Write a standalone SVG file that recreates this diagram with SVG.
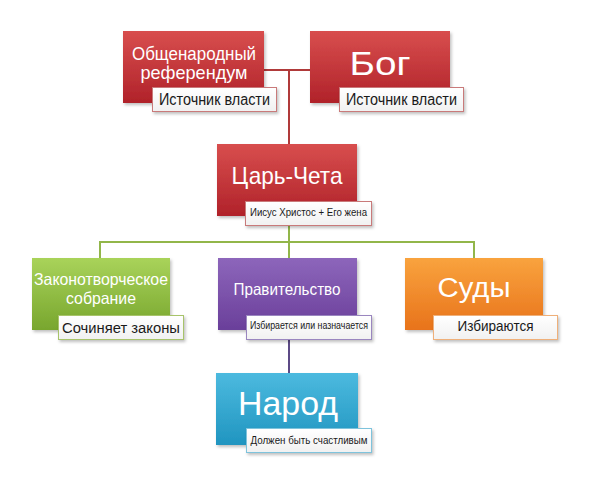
<svg xmlns="http://www.w3.org/2000/svg" width="591" height="489" viewBox="0 0 591 489">
<defs>
<linearGradient id="gRed" x1="0" y1="0" x2="0" y2="1"><stop offset="0" stop-color="#d84e4e"/><stop offset="1" stop-color="#b0222a"/></linearGradient>
<linearGradient id="gGreen" x1="0" y1="0" x2="0" y2="1"><stop offset="0" stop-color="#a9d35a"/><stop offset="1" stop-color="#78a62e"/></linearGradient>
<linearGradient id="gPurple" x1="0" y1="0" x2="0" y2="1"><stop offset="0" stop-color="#8d66bb"/><stop offset="1" stop-color="#6a3f9a"/></linearGradient>
<linearGradient id="gOrange" x1="0" y1="0" x2="0" y2="1"><stop offset="0" stop-color="#f9a33e"/><stop offset="1" stop-color="#e8731b"/></linearGradient>
<linearGradient id="gBlue" x1="0" y1="0" x2="0" y2="1"><stop offset="0" stop-color="#4cbadf"/><stop offset="1" stop-color="#2095c0"/></linearGradient>
<linearGradient id="gLabel" x1="0" y1="0" x2="0" y2="1"><stop offset="0" stop-color="#ffffff"/><stop offset="1" stop-color="#f1f1f1"/></linearGradient>
<filter id="sh" x="-10%" y="-10%" width="125%" height="130%"><feDropShadow dx="1.5" dy="2" stdDeviation="1.5" flood-color="#000" flood-opacity="0.25"/></filter>
</defs>
<style>
.box{filter:url(#sh)}
.lbl{fill:url(#gLabel);stroke-width:1;filter:url(#sh)}
.t{font-family:"Liberation Sans",Arial,sans-serif;fill:#ffffff;text-anchor:middle}
.lt{font-family:"Liberation Sans",Arial,sans-serif;fill:#1a1a1a;text-anchor:middle}
.con{fill:none;stroke-width:2}
</style>
<rect width="591" height="489" fill="#ffffff"/>
<g id="connectors">
<path class="con" stroke="#b03a3a" d="M264 70 H310 M289 70 V144"/>
<path class="con" stroke="#92b64a" d="M289 225 V258 M100 242 H474 M100 241 V258 M474 241 V258"/>
<path class="con" stroke="#5c4a86" d="M289 339 V373"/>
</g>
<g id="referendum">
<rect class="box" x="123" y="31" width="141" height="72" fill="url(#gRed)"/>
<text class="t" x="194" y="60" font-size="18.5" textLength="124" lengthAdjust="spacingAndGlyphs">Общенародный</text>
<text class="t" x="194" y="79" font-size="18.5" textLength="107" lengthAdjust="spacingAndGlyphs">референдум</text>
<rect class="lbl" x="152.5" y="87.5" width="124" height="24" stroke="#c97a7a"/>
<text class="lt" x="214.5" y="105" font-size="16" textLength="111" lengthAdjust="spacingAndGlyphs">Источник власти</text>
</g>
<g id="bog">
<rect class="box" x="310" y="31" width="140" height="72" fill="url(#gRed)"/>
<text class="t" x="380" y="75" font-size="33" textLength="61" lengthAdjust="spacingAndGlyphs">Бог</text>
<rect class="lbl" x="339.5" y="87.5" width="124" height="24" stroke="#c97a7a"/>
<text class="lt" x="401.5" y="105" font-size="16" textLength="111" lengthAdjust="spacingAndGlyphs">Источник власти</text>
</g>
<g id="tsar">
<rect class="box" x="217" y="144" width="140" height="72" fill="url(#gRed)"/>
<text class="t" x="287" y="184" font-size="24" textLength="111" lengthAdjust="spacingAndGlyphs">Царь-Чета</text>
<rect class="lbl" x="245.5" y="201.5" width="126" height="24" stroke="#c97a7a"/>
<text class="lt" x="308.5" y="216" font-size="10.5" textLength="117" lengthAdjust="spacingAndGlyphs">Иисус Христос + Его жена</text>
</g>
<g id="legislature">
<rect class="box" x="32" y="258" width="138" height="72" fill="url(#gGreen)"/>
<text class="t" x="101" y="285" font-size="16.5" textLength="134" lengthAdjust="spacingAndGlyphs">Законотворческое</text>
<text class="t" x="101" y="304" font-size="16.5" textLength="70" lengthAdjust="spacingAndGlyphs">собрание</text>
<rect class="lbl" x="58.5" y="315.5" width="125" height="24" stroke="#a8c46a"/>
<text class="lt" x="121" y="332.5" font-size="15.5" textLength="118" lengthAdjust="spacingAndGlyphs">Сочиняет законы</text>
</g>
<g id="government">
<rect class="box" x="218" y="258" width="139" height="72" fill="url(#gPurple)"/>
<text class="t" x="287" y="295" font-size="16.5" textLength="107" lengthAdjust="spacingAndGlyphs">Правительство</text>
<rect class="lbl" x="246.5" y="315.5" width="125" height="24" stroke="#9a86bf"/>
<text class="lt" x="309" y="329" font-size="10.5" textLength="118" lengthAdjust="spacingAndGlyphs">Избирается или назначается</text>
</g>
<g id="courts">
<rect class="box" x="405" y="258" width="138" height="72" fill="url(#gOrange)"/>
<text class="t" x="474" y="297" font-size="27" textLength="73" lengthAdjust="spacingAndGlyphs">Суды</text>
<rect class="lbl" x="433.5" y="315.5" width="124" height="24" stroke="#efb07a"/>
<text class="lt" x="495.5" y="331" font-size="14" textLength="76" lengthAdjust="spacingAndGlyphs">Избираются</text>
</g>
<g id="people">
<rect class="box" x="216" y="373" width="142" height="72" fill="url(#gBlue)"/>
<text class="t" x="288" y="415" font-size="33" textLength="100" lengthAdjust="spacingAndGlyphs">Народ</text>
<rect class="lbl" x="246.5" y="428.5" width="125" height="24" stroke="#7ec3dc"/>
<text class="lt" x="309" y="444" font-size="11" textLength="117" lengthAdjust="spacingAndGlyphs">Должен быть счастливым</text>
</g>
</svg>
